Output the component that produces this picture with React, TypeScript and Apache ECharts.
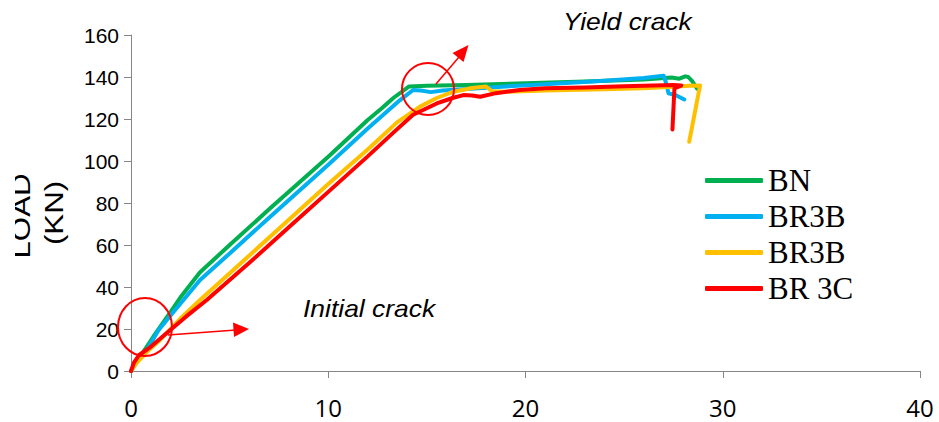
import React, { useEffect, useRef } from "react";
import * as echarts from "echarts";

const seriesNames = ["BN", "BR3B", "BR3B ", "BR 3C"];
const seriesColors = ["#00B050", "#00B0F0", "#FFC000", "#FF0000"];

const bnData: [number, number][] = [
  [0, 0], [0.46, 6.8], [1.13, 16.3], [2, 28], [2.5, 35], [3.5, 47], [5, 60], [7, 77],
  [10, 102], [12, 119.5], [12.7, 125], [13.3, 130], [14.1, 135.5], [15, 135.8],
  [17, 136.2], [20, 137], [23, 137.8], [26, 138.8], [27.4, 139.8], [27.8, 139.2],
  [28.1, 140.3], [28.25, 140], [28.45, 138], [28.7, 134.5],
];

const br3bData: [number, number][] = [
  [0, 0], [0.3, 5], [0.8, 10], [1.4, 19.5], [2.5, 32], [3.5, 43.3], [5, 56], [7, 73],
  [10, 98.2], [12, 115.5], [13.64, 129], [14.3, 133.8], [14.7, 133.6], [15.2, 132.8],
  [15.8, 133.6], [17, 134.3], [19, 135.5], [21, 136.5], [24, 138.2], [26, 139.5],
  [27, 140.6], [27.1, 138], [27.25, 132.2], [27.6, 131.4], [28.05, 129.3],
];

const br3b2Data: [number, number][] = [
  [0, 0], [0.3, 4], [0.8, 9], [1.5, 15], [2.5, 25], [3.5, 33.8], [6, 55], [8, 72],
  [10, 89], [12, 105.5], [13.5, 118.5], [14.65, 125.9], [15.5, 130], [16.35, 133],
  [17.3, 134.8], [18, 135.5], [18.3, 133.2], [19, 133], [21, 133.6], [24, 134.2],
  [26, 134.6], [27.5, 135.3], [28.3, 135.8], [28.85, 136], [28.3, 109.2],
];

const br3cData: [number, number][] = [
  [0, 0], [0.15, 4], [0.4, 7.5], [1, 11.5], [1.8, 18], [2.8, 26], [3.84, 33.8], [6, 51.5],
  [8, 68.5], [10, 85.3], [12, 102.2], [13.3, 113.5], [14.3, 122], [15.5, 127.4],
  [16.3, 130], [16.85, 131.4], [17.3, 131.2], [17.7, 130.6], [18.5, 132.3], [19.7, 133.8],
  [21, 134.6], [23, 135], [25, 135.6], [26.5, 136], [27.5, 136.2], [27.9, 136],
  [27.55, 134.5], [27.45, 115],
];

const allData = [bnData, br3bData, br3b2Data, br3cData];

export default function App() {
  const ref = useRef<HTMLDivElement>(null);
  useEffect(() => {
    const chart = echarts.init(ref.current!, null, { renderer: "svg" });
    const axisGray = "#868686";
    chart.setOption({
      animation: false,
      backgroundColor: "#ffffff",
      grid: { left: 131, right: 19, top: 35, bottom: 51, containLabel: false },
      legend: {
        orient: "vertical",
        left: 705,
        top: 165,
        padding: 0,
        icon: "roundRect",
        itemWidth: 58,
        itemHeight: 5,
        itemGap: 5,
        data: seriesNames,
        formatter: (name: string) => name.trim(),
        textStyle: {
          fontFamily: "Liberation Serif",
          fontSize: 31,
          lineHeight: 31,
          color: "#000",
        },
      },
      xAxis: {
        type: "value",
        min: 0,
        max: 40,
        interval: 10,
        splitLine: { show: false },
        axisLine: { show: true, lineStyle: { color: axisGray, width: 1 } },
        axisTick: { show: true, length: 7, lineStyle: { color: axisGray } },
        axisLabel: { margin: 24, fontSize: 24, fontFamily: "Open Sans", color: "#000" },
      },
      yAxis: {
        type: "value",
        min: 0,
        max: 160,
        interval: 20,
        splitLine: { show: false },
        axisLine: { show: true, lineStyle: { color: axisGray, width: 1 } },
        axisTick: { show: true, length: 7, lineStyle: { color: axisGray } },
        axisLabel: { margin: 12, fontSize: 21, fontFamily: "Liberation Sans", color: "#000" },
      },
      series: seriesNames.map((name, i) => ({
        name,
        type: "line",
        data: allData[i],
        showSymbol: false,
        symbol: "none",
        color: seriesColors[i],
        lineStyle: { width: 4, color: seriesColors[i], cap: "round", join: "round" },
      })),
      graphic: [
        {
          type: "text", x: 21, y: 216, rotation: Math.PI / 2, scaleX: 1.25, z: 100,
          style: { text: "LOAD", font: '25px "Liberation Sans"', fill: "#000", textAlign: "center", textVerticalAlign: "middle" },
        },
        {
          type: "text", x: 54, y: 213, rotation: Math.PI / 2, scaleX: 1.25, z: 100,
          style: { text: "(KN)", font: '25px "Liberation Sans"', fill: "#000", textAlign: "center", textVerticalAlign: "middle" },
        },
        {
          type: "rect", z: 101, shape: { x: 0, y: 150, width: 15, height: 130 },
          style: { fill: "#ffffff" },
        },
        {
          type: "text", x: 303, y: 309, scaleX: 1.15, z: 100,
          style: { text: "Initial crack", font: 'italic 23px "Liberation Sans"', fill: "#000", textVerticalAlign: "middle" },
        },
        {
          type: "text", x: 563, y: 22, scaleX: 1.15, z: 100,
          style: { text: "Yield crack", font: 'italic 23px "Liberation Sans"', fill: "#000", textVerticalAlign: "middle" },
        },
        {
          type: "ellipse", z: 100, shape: { cx: 145, cy: 327, rx: 27, ry: 29 },
          style: { fill: null, stroke: "#FF0000", lineWidth: 2 },
        },
        {
          type: "ellipse", z: 100, shape: { cx: 428, cy: 89, rx: 26, ry: 26 },
          style: { fill: null, stroke: "#FF0000", lineWidth: 2 },
        },
        {
          type: "line", z: 100, shape: { x1: 168, y1: 335, x2: 236, y2: 330 },
          style: { stroke: "#FF0000", lineWidth: 1.5 },
        },
        {
          type: "polygon", z: 100, shape: { points: [[249, 329], [233, 322.5], [234, 337]] },
          style: { fill: "#FF0000" },
        },
        {
          type: "line", z: 100, shape: { x1: 436, y1: 84, x2: 459, y2: 57 },
          style: { stroke: "#FF0000", lineWidth: 1.5 },
        },
        {
          type: "polygon", z: 100, shape: { points: [[468.5, 45], [452.5, 53], [463.5, 62]] },
          style: { fill: "#FF0000" },
        },
      ],
    });
    return () => chart.dispose();
  }, []);
  return (
    <div
      ref={ref}
      style={{ position: "fixed", left: 0, top: 0, width: 939, height: 422, background: "#fff" }}
    />
  );
}
